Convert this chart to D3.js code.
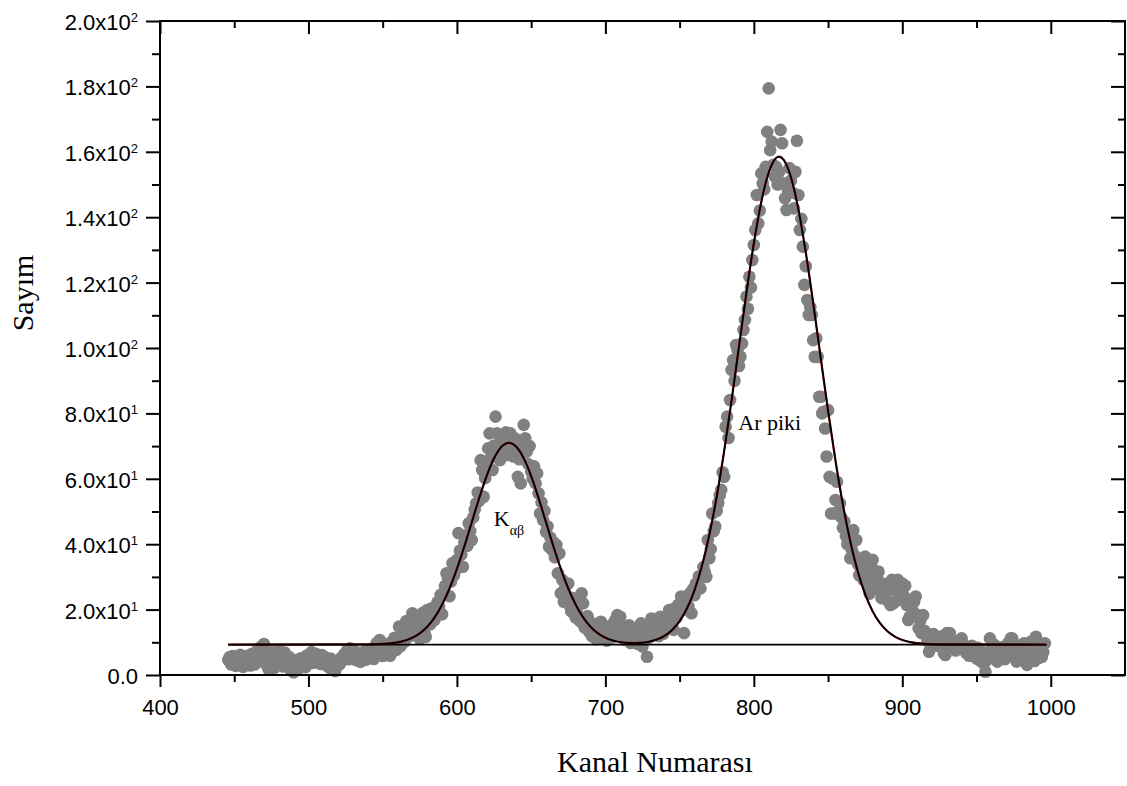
<!DOCTYPE html>
<html>
<head>
<meta charset="utf-8">
<script src="https://cdn.jsdelivr.net/npm/d3@7"></script>
<style>
  body { margin: 0; background: #fff; }
  svg { display: block; }
</style>
</head>
<body>
<svg id="chart" width="1127" height="786"></svg>
<script>
// ---- Spectrum data: one count per channel, starting at channel 446 ----
const channelStart = 446;
const counts = [
  4.6,5.5,3.2,5.8,4.0, 2.8,5.6,3.5,6.2,4.4, 2.5,5.0,3.1,5.9,4.2, 2.9,6.5,4.1,3.3,5.7, 7.8,4.8,8.6,6.0,9.5,
  6.8,3.0,1.8,5.2,7.0, 3.6,2.2,6.4,4.5,7.4, 3.9,5.8,2.6,6.9,4.8, 3.0,5.5,1.5,3.8,0.8, 2.7,4.6,1.9,3.5,5.1,
  3.2,4.9,2.4,6.0,4.3, 5.8,7.0,3.7,5.3,6.5, 4.0,5.9,3.4,6.1,4.7, 5.5,3.0,4.4,2.3,5.0, 1.6,3.6,1.2,2.9,4.1,
  3.3,5.2,4.6,6.3,5.0, 7.4,4.8,8.2,6.2,7.8, 5.4,4.6,6.9,5.2,4.0, 6.6,5.3,7.3,4.7,6.0, 5.5,7.9,6.4,4.9,7.2,
  9.8,6.3,10.7,7.5,5.8, 8.6,6.9,9.2,7.0,5.9, 10.1,8.0,11.4,7.6,9.5, 14.8,8.8,12.3,14.6,10.2, 16.5,11.8,13.9,12.0,18.9,
  13.5,16.2,14.8,18.0,11.0, 15.4,19.0,13.2,11.7,19.9, 17.1,15.5,20.4,18.2,16.9, 19.0,22.3,20.9,24.5,18.6, 25.0,27.2,31.1,29.4,24.1,
  28.6,34.2,30.5,32.0,35.2, 43.4,38.0,36.8,33.1,40.5, 42.7,39.5,46.4,44.0,41.3, 48.2,50.6,52.5,55.8,53.3, 65.7,62.7,54.5,60.2,63.4,
  69.3,73.9,66.5,62.7,70.2, 79.0,73.9,68.4,65.7,71.6, 72.9,69.0,74.2,67.3,71.8, 73.9,70.5,66.8,72.4,68.8, 60.6,66.0,58.6,69.5,76.5,
  72.4,68.3,64.5,70.0,62.2, 60.1,63.8,58.6,61.7,55.6, 49.4,52.8,47.4,50.2,43.8, 45.5,39.2,42.0,38.3,40.6, 36.0,39.8,31.1,37.2,25.0,
  29.1,22.4,27.0,24.3,28.0, 21.2,19.5,23.5,20.8,17.6, 18.9,22.0,16.4,25.0,21.9, 14.5,15.3,18.0,13.2,16.1, 11.8,12.8,15.5,10.9,13.6,
  12.0,16.3,14.8,11.2,13.9, 10.5,12.7,15.0,11.4,12.8, 16.2,17.0,18.3,13.1,17.8, 12.2,14.6,10.8,13.3,11.5, 15.2,9.8,12.4,13.8,11.0,
  14.1,9.5,10.7,15.8,8.7, 14.8,12.0,5.6,11.3,13.5, 17.3,15.8,12.5,13.8,16.4, 11.9,17.8,14.2,12.6,16.9, 15.0,18.1,19.9,18.9,16.0,
  13.8,20.5,17.6,21.4,19.2, 24.0,22.9,12.8,20.1,23.7, 21.0,25.0,18.9,26.2,24.4, 28.0,27.0,30.2,26.5,29.8, 33.0,31.4,30.0,41.3,35.7,
  38.5,49.4,44.0,45.4,50.2, 52.5,55.0,56.6,62.0,60.6, 75.9,79.0,72.5,84.1,93.3, 96.3,90.0,100.9,99.4,94.5, 97.3,101.4,105.5,108.6,115.7,
  112.0,121.8,118.5,126.9,131.5, 136.1,146.8,138.1,142.0,153.4, 150.4,148.5,155.4,166.1,179.4, 160.5,163.1,156.0,152.4,155.4, 150.0,153.8,166.7,162.6,150.4,
  145.8,142.2,148.0,155.0,151.2, 147.5,142.7,153.9,163.4,146.8, 136.1,139.5,131.0,119.3,125.0, 114.7,110.1,112.5,110.1,102.4, 97.3,103.0,97.3,85.1,85.1,
  80.0,80.5,75.4,66.8,81.0, 60.6,49.4,60.1,49.4,53.5, 59.1,50.0,52.5,48.2,45.0, 46.9,42.5,40.0,43.1,35.7, 38.4,44.3,36.5,41.3,34.0,
  30.5,32.6,34.8,29.0,36.2, 31.0,27.5,24.9,33.5,35.2, 30.1,27.0,29.6,31.6,26.0, 23.5,28.0,25.5,27.2,22.8, 26.4,21.4,29.1,21.9,25.8,
  27.6,29.1,23.0,26.5,28.0, 24.2,27.3,21.4,16.8,17.8, 21.9,19.6,22.5,24.0,18.3, 14.3,16.5,12.8,18.3,13.5, 12.8,10.4,7.1,11.6,9.3,
  12.5,10.2,11.7,8.9,10.8, 9.5,11.9,6.6,6.1,12.8, 9.0,12.8,10.1,8.2,9.7, 7.5,8.8,10.5,10.2,11.2, 7.9,9.1,6.8,8.4,5.9,
  7.2,8.9,6.1,7.6,5.0, 8.3,6.5,4.2,7.0,3.5, 1.0,4.6,6.8,11.2,8.0, 5.5,9.2,6.3,4.1,7.7, 5.2,8.5,6.6,4.8,7.9,
  9.6,6.0,11.2,11.2,8.3, 5.7,4.1,7.4,9.0,6.2, 4.5,9.7,7.1,3.1,5.8, 8.6,10.3,6.9,4.3,11.7, 7.5,5.2,8.8,5.6,7.0, 9.7
];

// ---- Fitted peak curve (sampled) ----
const fitChannels = [
  446, 540, 545, 550, 555, 560, 565, 570, 575, 580, 585, 590, 595, 600, 605, 610, 615, 620, 625, 630,
  635, 640, 645, 650, 655, 660, 665, 670, 675, 680, 685, 690, 695, 700, 705, 710, 715, 720, 725, 730,
  735, 740, 745, 750, 755, 760, 765, 770, 775, 780, 785, 790, 795, 800, 805, 810, 815, 817, 820, 825,
  830, 835, 840, 845, 850, 855, 860, 865, 870, 875, 880, 885, 890, 895, 900, 905, 910, 915, 920, 925, 997
];
const fitValues = [
  9.3, 9.35, 9.39, 9.49, 9.67, 9.99, 10.52, 11.40, 12.76, 14.78, 17.65, 21.51, 26.45, 32.46, 39.33, 46.72, 54.10, 60.84, 66.26, 69.78,
  71.00, 69.78, 66.26, 60.84, 54.10, 46.72, 39.33, 32.46, 26.45, 21.51, 17.65, 14.78, 12.76, 11.41, 10.55, 10.06, 9.80, 9.75, 9.88, 10.25,
  10.91, 12.01, 13.79, 16.48, 20.40, 25.90, 33.31, 42.83, 54.60, 68.46, 83.99, 100.46, 116.87, 132.03, 144.67, 153.63, 158.10, 158.50, 157.59, 152.19,
  142.40, 129.16, 113.65, 97.14, 80.77, 65.53, 52.06, 40.75, 31.65, 24.67, 19.51, 15.85, 13.37, 11.74, 10.72, 10.10, 9.73, 9.53, 9.41, 9.35, 9.3
];

// ---- Background level line ----
const baselineChannels = [446, 997];
const baselineValues = [9.3, 9.3];

// ---- Axis ticks and labels ----
const xMajorTicks = [400, 500, 600, 700, 800, 900, 1000];
const xMinorTicks = [450, 550, 650, 750, 850, 950];
const yMajorTicks = [0, 20, 40, 60, 80, 100, 120, 140, 160, 180, 200];
const yMinorTicks = [10, 30, 50, 70, 90, 110, 130, 150, 170, 190];
const yTickMantissa = ["0.0", "2.0x10", "4.0x10", "6.0x10", "8.0x10", "1.0x10", "1.2x10", "1.4x10", "1.6x10", "1.8x10", "2.0x10"];
const yTickExponent = ["", "1", "1", "1", "1", "2", "2", "2", "2", "2", "2"];

// ---- Peak annotations ----
const peakLabels = [
  { main: "K", sub: "\u03b1\u03b2", channel: 624.8, value: 45.5 },
  { main: "Ar piki", sub: "", channel: 789.5, value: 74.9 }
];

const xTitle = "Kanal Numarası";
const yTitle = "Sayım";

// ---------------------------------------------------------------
const svg = d3.select("#chart");
const plot = { left: 160, right: 1125, top: 21, bottom: 675 };

const x = d3.scaleLinear().domain([400, 1050]).range([plot.left, plot.right]);
const y = d3.scaleLinear().domain([0, 200]).range([plot.bottom, plot.top]);

const sans = "'Liberation Sans', Arial, Helvetica, sans-serif";
const serif = "'Liberation Serif', 'Times New Roman', Times, serif";

// scatter points
const points = counts.map((v, i) => ({ c: channelStart + i, v }));
svg.append("g")
  .selectAll("circle")
  .data(points)
  .join("circle")
  .attr("cx", d => x(d.c))
  .attr("cy", d => y(d.v))
  .attr("r", 6.3)
  .attr("fill", "#808080");

// background level
const baseline = baselineChannels.map((c, i) => ({ c, v: baselineValues[i] }));
svg.append("path")
  .datum(baseline)
  .attr("fill", "none")
  .attr("stroke", "#000")
  .attr("stroke-width", 1.6)
  .attr("d", d3.line().x(d => x(d.c)).y(d => y(d.v)));

// fitted curve
const fit = fitChannels.map((c, i) => ({ c, v: fitValues[i] }));
svg.append("path")
  .datum(fit)
  .attr("fill", "none")
  .attr("stroke", "#5a0000")
  .attr("stroke-width", 2.2)
  .attr("d", d3.line().x(d => x(d.c)).y(d => y(d.v)).curve(d3.curveMonotoneX));
svg.append("path")
  .datum(fit)
  .attr("fill", "none")
  .attr("stroke", "#000")
  .attr("stroke-width", 1.4)
  .attr("d", d3.line().x(d => x(d.c)).y(d => y(d.v)).curve(d3.curveMonotoneX));

// ---- axes ----
function styleAxis(g) {
  g.select(".domain").remove();
  g.selectAll(".tick line").attr("stroke", "#000").attr("stroke-width", 2);
  g.selectAll(".tick text").remove();
}

// bottom: outward ticks with labels
svg.append("g")
  .attr("transform", `translate(0,${plot.bottom})`)
  .call(d3.axisBottom(x).tickValues(xMinorTicks).tickSize(7).tickSizeOuter(0))
  .call(styleAxis);
const bottomMajor = svg.append("g")
  .attr("transform", `translate(0,${plot.bottom})`)
  .call(d3.axisBottom(x).tickValues(xMajorTicks).tickSize(12).tickSizeOuter(0));
bottomMajor.select(".domain").remove();
bottomMajor.selectAll(".tick line").attr("stroke", "#000").attr("stroke-width", 2);
bottomMajor.selectAll(".tick text")
  .attr("y", 24)
  .attr("dy", "0.71em")
  .attr("fill", "#000")
  .style("font-family", sans)
  .style("font-size", "22px")
  .text(d => d);

// top: inward ticks
svg.append("g")
  .attr("transform", `translate(0,${plot.top})`)
  .call(d3.axisTop(x).tickValues(xMinorTicks).tickSize(-7).tickSizeOuter(0))
  .call(styleAxis);
svg.append("g")
  .attr("transform", `translate(0,${plot.top})`)
  .call(d3.axisTop(x).tickValues(xMajorTicks).tickSize(-13).tickSizeOuter(0))
  .call(styleAxis);

// left: outward ticks with labels
svg.append("g")
  .attr("transform", `translate(${plot.left},0)`)
  .call(d3.axisLeft(y).tickValues(yMinorTicks).tickSize(8).tickSizeOuter(0))
  .call(styleAxis);
svg.append("g")
  .attr("transform", `translate(${plot.left},0)`)
  .call(d3.axisLeft(y).tickValues(yMajorTicks).tickSize(14).tickSizeOuter(0))
  .call(styleAxis);

// right: inward ticks
svg.append("g")
  .attr("transform", `translate(${plot.right},0)`)
  .call(d3.axisRight(y).tickValues(yMinorTicks).tickSize(-7).tickSizeOuter(0))
  .call(styleAxis);
svg.append("g")
  .attr("transform", `translate(${plot.right},0)`)
  .call(d3.axisRight(y).tickValues(yMajorTicks).tickSize(-14).tickSizeOuter(0))
  .call(styleAxis);

// y tick labels in scientific form with superscript exponents
const yLabels = svg.append("g")
  .selectAll("text")
  .data(yMajorTicks.map((v, i) => ({ v, m: yTickMantissa[i], e: yTickExponent[i] })))
  .join("text")
  .attr("x", plot.left - 22)
  .attr("y", d => y(d.v) + 9)
  .attr("text-anchor", "end")
  .attr("fill", "#000")
  .style("font-family", sans)
  .style("font-size", "22px");
yLabels.append("tspan").text(d => d.m);
yLabels.filter(d => d.e !== "").append("tspan")
  .attr("dy", -8)
  .style("font-size", "13px")
  .text(d => d.e);

// frame
svg.append("rect")
  .attr("x", plot.left)
  .attr("y", plot.top)
  .attr("width", plot.right - plot.left)
  .attr("height", plot.bottom - plot.top)
  .attr("fill", "none")
  .attr("stroke", "#000")
  .attr("stroke-width", 2);

// axis titles
svg.append("text")
  .attr("x", 655)
  .attr("y", 772)
  .attr("text-anchor", "middle")
  .attr("fill", "#000")
  .style("font-family", serif)
  .style("font-size", "30px")
  .text(xTitle);

svg.append("text")
  .attr("transform", `translate(33,293) rotate(-90)`)
  .attr("text-anchor", "middle")
  .attr("fill", "#000")
  .style("font-family", serif)
  .style("font-size", "30px")
  .text(yTitle);

// peak labels
const ann = svg.append("g")
  .selectAll("text")
  .data(peakLabels)
  .join("text")
  .attr("x", d => x(d.channel))
  .attr("y", d => y(d.value))
  .attr("fill", "#000")
  .style("font-family", serif)
  .style("font-size", "22px");
ann.append("tspan").text(d => d.main);
ann.filter(d => d.sub !== "").append("tspan")
  .attr("dy", 9)
  .style("font-size", "14px")
  .text(d => d.sub);
</script>
</body>
</html>
